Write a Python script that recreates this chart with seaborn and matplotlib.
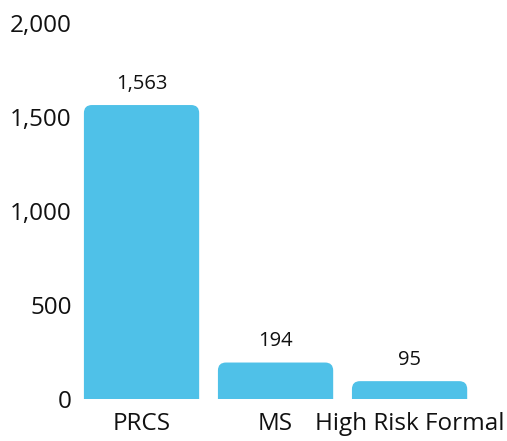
import matplotlib
matplotlib.use("Agg")
import matplotlib.pyplot as plt
import pandas as pd
import seaborn as sns
from matplotlib.path import Path
from matplotlib.patches import PathPatch

categories = ["PRCS", "MS", "High Risk Formal"]
counts = [1563, 194, 95]
y_ticks = [0, 500, 1000, 1500, 2000]

BAR_COLOR = "#4FC1E8"
TEXT_COLOR = "#111111"

sns.set_theme(style="white")
plt.rcParams["font.family"] = ["Open Sans", "DejaVu Sans"]

W, H, DPI = 5.07, 4.41, 100
fig = plt.figure(figsize=(W, H), dpi=DPI)
ax = fig.add_axes([0.147, 0.0952, 0.793, 0.853])

df = pd.DataFrame({"category": categories, "count": counts})
sns.barplot(data=df, x="category", y="count", color=BAR_COLOR,
            saturation=1, width=0.86, ax=ax)

ax.set_xlim(-0.5, 2.5)
ax.set_ylim(0, 2000)

# replace the square bars with bars whose top corners are rounded
fig.canvas.draw()
px_per_x = ax.bbox.width / (ax.get_xlim()[1] - ax.get_xlim()[0])
px_per_y = ax.bbox.height / (ax.get_ylim()[1] - ax.get_ylim()[0])
radius_px = 8
for bar in list(ax.patches):
    x0, w = bar.get_x(), bar.get_width()
    h = bar.get_height()
    rx = radius_px / px_per_x
    ry = min(radius_px / px_per_y, h)
    x1 = x0 + w
    verts = [(x0, 0), (x0, h - ry), (x0, h), (x0 + rx, h),
             (x1 - rx, h), (x1, h), (x1, h - ry), (x1, 0), (x0, 0)]
    codes = [Path.MOVETO, Path.LINETO, Path.CURVE3, Path.CURVE3,
             Path.LINETO, Path.CURVE3, Path.CURVE3, Path.LINETO, Path.CLOSEPOLY]
    ax.add_patch(PathPatch(Path(verts, codes), facecolor=BAR_COLOR,
                           edgecolor="none", zorder=2))
    bar.remove()

for i, v in enumerate(counts):
    ax.annotate(f"{v:,}", xy=(i, v), xytext=(0, 8), textcoords="offset points",
                ha="center", va="bottom", fontsize=14.5, color=TEXT_COLOR)

ax.set_yticks(y_ticks)
ax.set_yticklabels([f"{t:,}" for t in y_ticks])
ax.tick_params(axis="y", labelsize=17.5, colors=TEXT_COLOR, length=0, pad=2)
ax.tick_params(axis="x", labelsize=17.5, colors=TEXT_COLOR, length=0, pad=9)
ax.set_xlabel("")
ax.set_ylabel("")
sns.despine(ax=ax, left=True, bottom=True)
ax.grid(False)

fig.savefig("out.png", dpi=DPI)
